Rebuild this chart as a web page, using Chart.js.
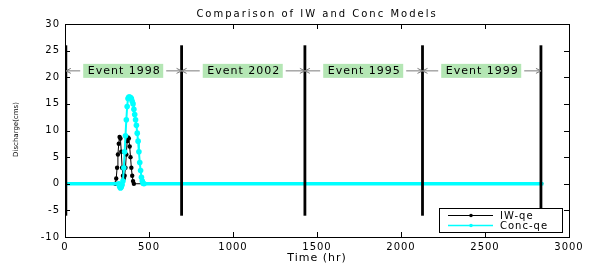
<!DOCTYPE html>
<html><head><meta charset="utf-8">
<script src="https://cdn.jsdelivr.net/npm/chart.js@4"></script>
<style>html,body{margin:0;padding:0;background:#fff}</style>
</head><body>
<canvas id="c" width="590" height="264"></canvas>
<script>
const titleText = 'Comparison of IW and Conc Models';
const xTitle = 'Time (hr)';
const yTitle = 'Discharge(cms)';
const xTicks = [0, 500, 1000, 1500, 2000, 2500, 3000];
const yTicks = [-10, -5, 0, 5, 10, 15, 20, 25, 30];
const eventNames = ['Event 1998', 'Event 2002', 'Event 1995', 'Event 1999'];
const eventBounds = [5, 694, 1428, 2128, 2833];
const eventLineRange = [-6, 26];
const eventLabelY = 21.2;
const seriesNames = ['IW-qe', 'Conc-qe'];

const timeIW = [0, 300, 305, 310, 315, 320, 325, 330, 335, 340, 345, 350, 355, 360, 365, 370, 375, 380, 385, 390, 395, 400, 405, 410, 2848];
const iwQe   = [0, 0, 1, 3, 5.5, 7.5, 8.8, 8.5, 6, 3, 1.5, 1, 1.5, 3, 5.5, 8, 8.7, 8.5, 7, 5, 3, 1.5, 0.5, 0, 0];

const timeConc = [0, 320, 325, 330, 335, 340, 345, 350, 355, 360, 365, 370, 375, 380, 385, 390, 395, 400, 405, 410, 415, 420, 425, 430, 435, 440, 445, 450, 455, 460, 465, 470, 2848];
const concQe   = [0, 0, -0.5, -0.8, -0.6, -0.2, 0.5, 3, 6, 9, 12, 14.5, 16, 16.3, 16.3, 16.2, 16, 15.5, 15, 14, 13, 12, 11, 9.5, 8, 6, 4, 2.5, 1.2, 0.5, 0.1, 0, 0];

const FONT = '"DejaVu Sans", sans-serif';
const toXY = (xs, ys) => xs.map((x, i) => ({ x: x, y: ys[i] }));

const eventLineSets = eventBounds.map(b => ({
  label: '_ev', data: [{ x: b, y: eventLineRange[0] }, { x: b, y: eventLineRange[1] }],
  borderColor: '#000', borderWidth: 2.8, pointRadius: 0, showLine: true
}));

const baseW = (ctx, thin, thick) => (ctx.p0.parsed.y === 0 && ctx.p1.parsed.y === 0) ? thick : thin;
const endR = (n, r) => (ctx) => (ctx.dataIndex === 0 || ctx.dataIndex === n - 1) ? 0 : r;

const decor = {
  id: 'decor',
  beforeLayout(chart) { chart.ctx.letterSpacing = '1px'; },
  beforeDraw(chart) {
    const c = chart.ctx; c.save(); c.fillStyle = '#fff'; c.fillRect(0, 0, chart.width, chart.height); c.restore();
    c.letterSpacing = '1px';
  },
  afterDatasetsDraw(chart) {
    const c = chart.ctx, xs = chart.scales.x, ys = chart.scales.y;
    c.save();
    const py = ys.getPixelForValue(eventLabelY);
    c.font = '11px ' + FONT; c.letterSpacing = '1px';
    c.textAlign = 'center'; c.textBaseline = 'middle';
    eventNames.forEach((name, i) => {
      const L = xs.getPixelForValue(eventBounds[i]), R = xs.getPixelForValue(eventBounds[i + 1]);
      const cx = (L + R) / 2, w = c.measureText(name).width;
      const bl = cx - w / 2 - 4, br = cx + w / 2 + 3;
      c.fillStyle = '#b4e6b4';
      c.fillRect(bl, py - 7, br - bl, 14);
      c.fillStyle = '#000';
      c.fillText(name, cx + 0.5, py + 0.5);
      c.strokeStyle = '#7a7a7a'; c.lineWidth = 1;
      c.beginPath();
      c.moveTo(L, py); c.lineTo(bl - 3, py);
      c.moveTo(br + 3, py); c.lineTo(R, py);
      c.moveTo(L + 5, py - 2.5); c.lineTo(L, py); c.lineTo(L + 5, py + 2.5);
      c.moveTo(R - 5, py - 2.5); c.lineTo(R, py); c.lineTo(R - 5, py + 2.5);
      c.stroke();
    });
    c.restore();
  },
  afterDraw(chart) {
    const c = chart.ctx, xs = chart.scales.x, ys = chart.scales.y, a = chart.chartArea;
    c.save();
    c.strokeStyle = '#000'; c.lineWidth = 1;
    c.strokeRect(Math.round(a.left) + 0.5, Math.round(a.top) + 0.5, Math.round(a.right - a.left), Math.round(a.bottom - a.top));
    c.beginPath();
    xTicks.forEach(v => {
      const x = Math.round(xs.getPixelForValue(v)) + 0.5;
      c.moveTo(x, a.bottom); c.lineTo(x, a.bottom - 5);
      c.moveTo(x, a.top); c.lineTo(x, a.top + 5);
    });
    yTicks.forEach(v => {
      const y = Math.round(ys.getPixelForValue(v)) + 0.5;
      c.moveTo(a.left, y); c.lineTo(a.left + 5, y);
      c.moveTo(a.right, y); c.lineTo(a.right - 5, y);
    });
    c.stroke();
    c.fillStyle = '#000'; c.textAlign = 'center'; c.textBaseline = 'middle';
    c.font = '10px ' + FONT; c.letterSpacing = '2px';
    c.fillText(titleText, (a.left + a.right) / 2, 14);
    c.font = '11px ' + FONT; c.letterSpacing = '1px';
    c.fillText(xTitle, (a.left + a.right) / 2, 258);
    c.save();
    c.translate(16, (a.top + a.bottom) / 2 - 1); c.rotate(-Math.PI / 2);
    c.font = '7px ' + FONT; c.letterSpacing = '0px';
    c.fillText(yTitle, 0, 0);
    c.restore();
    const lx = 439, ly = 208, lw = 123, lh = 24;
    c.fillStyle = '#fff'; c.fillRect(lx, ly, lw, lh);
    c.strokeRect(lx + 0.5, ly + 0.5, lw, lh);
    const rows = [{ n: seriesNames[0], col: '#000', w: 1 }, { n: seriesNames[1], col: '#00ffff', w: 1.5 }];
    c.font = '10px ' + FONT; c.letterSpacing = '1px'; c.textAlign = 'left';
    rows.forEach((r, i) => {
      const y = ly + 7.5 + i * 10;
      c.strokeStyle = r.col; c.lineWidth = r.w;
      c.beginPath(); c.moveTo(448, y); c.lineTo(493, y); c.stroke();
      c.fillStyle = r.col; c.beginPath(); c.arc(471, y, 1.8, 0, Math.PI * 2); c.fill();
      c.fillStyle = '#000'; c.fillText(r.n, 500, y + 0.5);
    });
    c.restore();
  }
};

new Chart(document.getElementById('c'), {
  type: 'scatter',
  data: {
    datasets: [
      ...eventLineSets,
      {
        label: seriesNames[1], data: toXY(timeConc, concQe), showLine: true,
        borderColor: '#00ffff', backgroundColor: '#00ffff', borderWidth: 2,
        pointRadius: endR(timeConc.length, 2.8), pointBorderWidth: 0, pointHoverRadius: 0,
        segment: { borderWidth: ctx => baseW(ctx, 2, 3.6) }
      },
      {
        label: seriesNames[0], data: toXY(timeIW, iwQe), showLine: true,
        borderColor: '#000', backgroundColor: '#000', borderWidth: 1,
        pointRadius: endR(timeIW.length, 2.2), pointBorderWidth: 0, pointHoverRadius: 0
      }
    ]
  },
  options: {
    responsive: false, animation: false, devicePixelRatio: 1,
    layout: { padding: { top: 24, right: 21, left: 0, bottom: 0 } },
    plugins: { legend: { display: false }, tooltip: { enabled: false }, title: { display: false } },
    events: [],
    scales: {
      x: {
        type: 'linear', min: 0, max: 3000,
        grid: { display: false, drawTicks: false }, border: { display: false },
        afterBuildTicks: s => { s.ticks = xTicks.map(v => ({ value: v })); },
        ticks: { color: '#000', font: { family: FONT, size: 10 }, padding: 4, maxRotation: 0, autoSkip: false, callback: v => String(v) },
        afterFit: s => { s.height = 27; }
      },
      y: {
        type: 'linear', min: -10, max: 30,
        grid: { display: false, drawTicks: false }, border: { display: false },
        afterBuildTicks: s => { s.ticks = yTicks.map(v => ({ value: v })); },
        ticks: { color: '#000', font: { family: FONT, size: 10 }, padding: 5, autoSkip: false, callback: v => String(v) },
        afterFit: s => { s.width = 65; }
      }
    }
  },
  plugins: [decor]
});
</script>
</body></html>
